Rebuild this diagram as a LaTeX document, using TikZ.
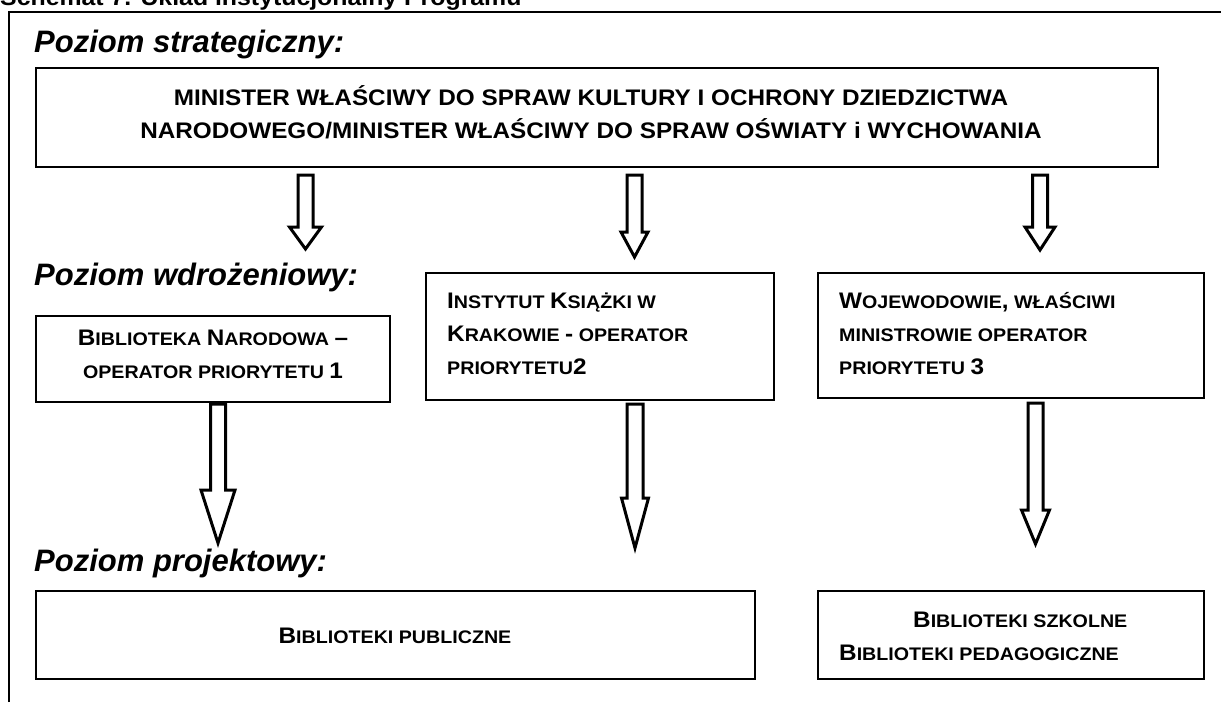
\documentclass[tikz,border=0pt]{standalone}
\usepackage{fontspec}
\setmainfont{Liberation Sans}
\newfontfamily\boxfont[FakeStretch=1.08]{Liberation Sans}
\newcommand\bsc[2]{{\fontsize{22.5}{33}\selectfont #1}{\fontsize{18.2}{33}\selectfont #2}}
\newcommand\harrow[6]{% cx, ytop, yhead, ytip, shaft half, head half
  \draw[hollow] ({#1-#5},#2) -- ({#1+#5},#2) -- ({#1+#5},#3) -- ({#1+#6},#3) -- (#1,#4)
    -- ({#1-#6},#3) -- ({#1-#5},#3) -- cycle;}
\tikzset{
  box/.style={draw, line width=2pt, inner sep=0pt},
  btext/.style={font=\boxfont\bfseries\fontsize{18.2}{33}\selectfont, inner sep=0pt},
  level/.style={font=\bfseries\itshape\fontsize{31}{36}\selectfont, anchor=west, inner sep=0pt},
  hollow/.style={line width=3pt, line join=miter, fill=white},
  frame/.style={line width=2pt}
}
\begin{document}
\begin{tikzpicture}[x=1pt,y=-1pt]
\useasboundingbox (0,0) rectangle (1221,702);
% title (cut off at top, as in the reference)
\node[anchor=base west, inner sep=0pt, font=\boxfont\bfseries\fontsize{23}{26}\selectfont] (title) at (0,5) {Schemat 7. Układ instytucjonalny Programu};
% frame
\coordinate (ftl) at (9,12);
\coordinate (ftr) at (1221,12);
\coordinate (fbl) at (9,702);
\draw[frame] (fbl) -- (ftl) -- (ftr);
% level labels
\node[level] (lvl1) at (34,44) {Poziom strategiczny:};
\node[level] (lvl2) at (34,277) {Poziom wdrożeniowy:};
\node[level] (lvl3) at (34,563) {Poziom projektowy:};
% boxes
\node[box, minimum width=1122pt, minimum height=99pt] (min) at (597,117.5) {};
\node[btext, align=center, font=\boxfont\bfseries\fontsize{22.5}{33}\selectfont] (mint) at (591,112) {MINISTER WŁAŚCIWY DO SPRAW KULTURY I OCHRONY DZIEDZICTWA\\NARODOWEGO/MINISTER WŁAŚCIWY DO SPRAW OŚWIATY i WYCHOWANIA};
\node[box, minimum width=354pt, minimum height=86pt] (bn) at (213,359) {};
\node[btext, align=center] (bnt) at (213,354) {\bsc{B}{IBLIOTEKA} \bsc{N}{ARODOWA} \bsc{–}{}\\\bsc{}{OPERATOR PRIORYTETU} \bsc{1}{}};
\node[box, minimum width=348pt, minimum height=127pt] (ik) at (600,336.5) {};
\node[btext, align=left, anchor=west] (ikt) at (447,334) {\bsc{I}{NSTYTUT} \bsc{K}{SIĄŻKI W}\\\bsc{K}{RAKOWIE} \bsc{-}{} \bsc{}{OPERATOR}\\\bsc{}{PRIORYTETU}\bsc{2}{}};
\node[box, minimum width=386pt, minimum height=125pt] (woj) at (1011,335.5) {};
\node[btext, align=left, anchor=west] (wojt) at (839,334) {\bsc{W}{OJEWODOWIE}\bsc{,}{} \bsc{}{WŁAŚCIWI}\\\bsc{}{MINISTROWIE OPERATOR}\\\bsc{}{PRIORYTETU} \bsc{3}{}};
\node[box, minimum width=719pt, minimum height=88pt] (bp) at (395.5,635) {};
\node[btext] (bpt) at (395,636) {\bsc{B}{IBLIOTEKI PUBLICZNE}};
\node[box, minimum width=386pt, minimum height=88pt] (bs) at (1011,635) {};
\node[btext, align=left, anchor=west] (bst) at (839,636) {\hspace*{74pt}\bsc{B}{IBLIOTEKI SZKOLNE}\\\bsc{B}{IBLIOTEKI PEDAGOGICZNE}};
% arrows
\harrow{305.5}{175}{227}{249}{7.5}{16}
\harrow{634.5}{175}{232}{257}{7.5}{13.5}
\harrow{1040}{175}{227}{250}{7.5}{15}
\harrow{218}{404}{490}{543}{7.5}{17}
\harrow{635}{404}{498}{548}{8}{13.5}
\harrow{1035.5}{403}{510}{544}{7.5}{14}
\end{tikzpicture}
\end{document}
